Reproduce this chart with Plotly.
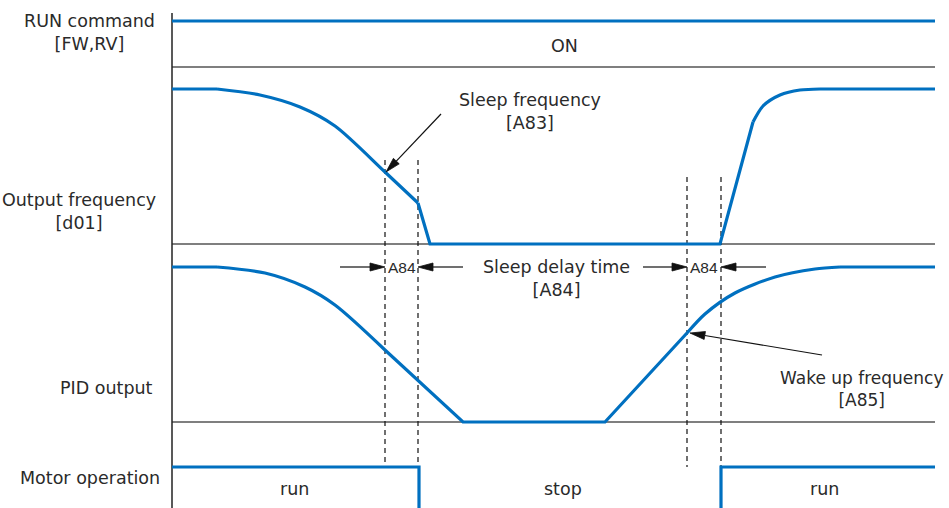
import math
import plotly.graph_objects as go

# ---- data (time in diagram units, levels in diagram rows) ----
t_start, t_end = 172, 935

run_cmd_t = [172, 935]
run_cmd_v = [21, 21]

freq_flat1_t = [172, 217]
freq_flat1_v = [89, 89]
freq_decel_curve_t = [217, 260, 300, 335, 385, 418]
freq_decel_curve_v = [89, 95, 107, 126, 172, 203]
freq_stop_t = [418, 430, 720, 753]
freq_stop_v = [203, 244, 244, 122]
freq_accel_curve_t = [753, 763, 780, 800, 820]
freq_accel_curve_v = [122, 106, 95, 90, 89]
freq_flat2_t = [820, 935]
freq_flat2_v = [89, 89]

pid_flat1_t = [172, 217]
pid_flat1_v = [267, 267]
pid_decel_curve_t = [217, 265, 305, 335, 385]
pid_decel_curve_v = [267, 273, 287, 305, 350]
pid_low_t = [385, 463, 605, 687]
pid_low_v = [350, 422, 422, 333]
pid_rise_curve_t = [687, 705, 735, 775, 815, 840]
pid_rise_curve_v = [333, 314, 293, 277, 269, 267]
pid_flat2_t = [840, 935]
pid_flat2_v = [267, 267]

motor_run1_t = [172, 419, 419]
motor_run1_v = [467, 467, 508]
motor_run2_t = [721, 721, 935]
motor_run2_v = [508, 467, 467]

baseline_rows = [67, 244, 422]
sleep_marks_t = [385, 418]
wake_marks_t = [687, 721]
sleep_mark_top, wake_mark_top, mark_bottom = 160, 177, 467

# pointer arrows: (tail_t, tail_v, tip_t, tip_v)
pointer_arrows = [
    (441, 114, 386, 172),
    (822, 355, 690, 333),
    (340, 267, 385, 267),
    (463, 267, 418, 267),
    (643, 267, 687, 267),
    (766, 267, 721, 267),
]

row_labels = ["RUN command<br>[FW,RV]", "Output frequency<br>[d01]", "PID output", "Motor operation"]

BLUE = "#0070C0"
FONT = "DejaVu Sans"
TXT = "#2a2a2a"

fig = go.Figure()

def line(t, v, shape="linear", color=BLUE, width=3.2, dash=None):
    fig.add_trace(go.Scatter(x=t, y=v, mode="lines", hoverinfo="skip",
                             line=dict(color=color, width=width, shape=shape,
                                       smoothing=0.8 if shape == "spline" else None,
                                       dash=dash)))

# baselines
for r in baseline_rows:
    line([t_start, t_end], [r, r], color="#555555", width=1.5)
# vertical axis
line([t_start, t_start], [13, 508], color="#222222", width=1.5)
# dashed markers
for t in sleep_marks_t:
    line([t, t], [sleep_mark_top, mark_bottom], color="#111111", width=1.2, dash="5px,4px")
for t in wake_marks_t:
    line([t, t], [wake_mark_top, mark_bottom], color="#111111", width=1.2, dash="5px,4px")

# signals
line(run_cmd_t, run_cmd_v)
line(freq_flat1_t, freq_flat1_v)
line(freq_decel_curve_t, freq_decel_curve_v, shape="spline")
line(freq_stop_t, freq_stop_v)
line(freq_accel_curve_t, freq_accel_curve_v, shape="spline")
line(freq_flat2_t, freq_flat2_v)
line(pid_flat1_t, pid_flat1_v)
line(pid_decel_curve_t, pid_decel_curve_v, shape="spline")
line(pid_low_t, pid_low_v)
line(pid_rise_curve_t, pid_rise_curve_v, shape="spline")
line(pid_flat2_t, pid_flat2_v)
line(motor_run1_t, motor_run1_v)
line(motor_run2_t, motor_run2_v)

# arrows: shaft + slender filled head
HEAD_LEN, HEAD_HALF = 15, 4
for (x0, y0, x1, y1) in pointer_arrows:
    dx, dy = x1 - x0, y1 - y0
    L = math.hypot(dx, dy)
    ux, uy = dx / L, dy / L
    bx, by = x1 - ux * HEAD_LEN, y1 - uy * HEAD_LEN
    px, py = -uy * HEAD_HALF, ux * HEAD_HALF
    fig.add_trace(go.Scatter(x=[x0, bx], y=[y0, by], mode="lines", hoverinfo="skip",
                             line=dict(color="#111111", width=1.2)))
    fig.add_trace(go.Scatter(x=[x1, bx + px, bx - px, x1], y=[y1, by + py, by - py, y1],
                             mode="lines", fill="toself", fillcolor="#111111",
                             hoverinfo="skip", line=dict(color="#111111", width=0.8)))

ann = []
def text(x, y, s, size=17.5, xanchor="center", family=FONT):
    ann.append(dict(x=x, y=y, text=s, showarrow=False, xanchor=xanchor, yanchor="middle",
                    font=dict(family=family, size=size, color=TXT), align="center"))

# row labels
text(89, 32, row_labels[0])
text(158, 211, row_labels[1], xanchor="right")
text(106, 388, row_labels[2])
text(90, 478, row_labels[3])

text(564, 46, "ON")
text(294, 489, "run")
text(563, 489, "stop")
text(824, 489, "run")

text(530, 111, "Sleep frequency<br>[A83]")
text(556, 278, "Sleep delay time<br>[A84]")
text(861, 389, "Wake up frequency<br>[A85]", size=17)

text(402, 267, "A84", size=15.5, family="Liberation Sans")
text(704, 267, "A84", size=15.5, family="Liberation Sans")

fig.update_layout(
    width=949, height=508, margin=dict(l=0, r=0, t=0, b=0),
    paper_bgcolor="white", plot_bgcolor="white", showlegend=False,
    annotations=ann,
    xaxis=dict(range=[0, 949], visible=False, fixedrange=True),
    yaxis=dict(range=[508, 0], visible=False, fixedrange=True),
)
fig.write_html("out.html", config={"displayModeBar": False},
               post_script="document.body.style.margin='0';document.body.style.overflow='hidden';")
